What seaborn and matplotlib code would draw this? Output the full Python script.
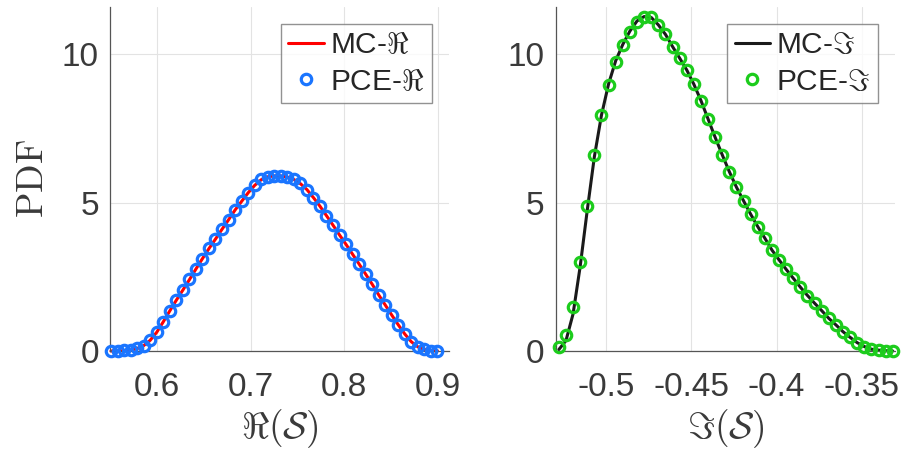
import matplotlib
matplotlib.use("Agg")
import matplotlib.pyplot as plt
import numpy as np
import seaborn as sns

# PDF of real part
re_x = np.linspace(0.551, 0.8995, 51)
re_pce = [0.01, 0.01, 0.02, 0.04, 0.09, 0.18, 0.37, 0.64, 0.99, 1.36, 1.72, 2.05, 2.41,
          2.76, 3.11, 3.46, 3.77, 4.10, 4.41, 4.75, 5.04, 5.33, 5.59, 5.78, 5.87, 5.90,
          5.90, 5.85, 5.79, 5.65, 5.44, 5.16, 4.88, 4.56, 4.24, 3.91, 3.59, 3.27, 2.93,
          2.59, 2.26, 1.89, 1.55, 1.21, 0.88, 0.57, 0.31, 0.15, 0.06, 0.01, 0.01]
re_mc = [0.00, 0.00, 0.01, 0.03, 0.08, 0.18, 0.36, 0.63, 0.98, 1.35, 1.71, 2.05, 2.40,
         2.76, 3.11, 3.45, 3.77, 4.10, 4.42, 4.75, 5.04, 5.33, 5.58, 5.77, 5.87, 5.90,
         5.90, 5.86, 5.78, 5.64, 5.44, 5.17, 4.88, 4.56, 4.24, 3.91, 3.59, 3.26, 2.93,
         2.59, 2.25, 1.89, 1.55, 1.21, 0.88, 0.57, 0.31, 0.14, 0.05, 0.01, 0.00]

# PDF of imaginary part
im_x = np.linspace(-0.5279, -0.3318, 48)
im_pce = [0.15, 0.54, 1.47, 3.01, 4.87, 6.61, 7.96, 8.97, 9.75, 10.31, 10.76, 11.10,
          11.27, 11.25, 10.99, 10.67, 10.26, 9.87, 9.47, 8.99, 8.44, 7.82, 7.20, 6.61,
          6.04, 5.52, 5.06, 4.61, 4.19, 3.80, 3.40, 3.07, 2.75, 2.45, 2.15, 1.87, 1.61,
          1.36, 1.10, 0.88, 0.65, 0.46, 0.28, 0.15, 0.06, 0.03, 0.01, 0.01]
im_mc = [0.05, 0.35, 1.25, 2.85, 4.75, 6.55, 7.95, 9.00, 9.78, 10.33, 10.78, 11.12,
         11.27, 11.24, 10.99, 10.67, 10.26, 9.87, 9.47, 8.99, 8.44, 7.82, 7.20, 6.61,
         6.04, 5.52, 5.06, 4.61, 4.19, 3.80, 3.40, 3.07, 2.75, 2.45, 2.15, 1.87, 1.61,
         1.36, 1.10, 0.88, 0.65, 0.46, 0.28, 0.15, 0.06, 0.03, 0.01, 0.00]

re_ticks = [0.6, 0.7, 0.8, 0.9]
re_ticklabels = ["0.6", "0.7", "0.8", "0.9"]
im_ticks = [-0.5, -0.45, -0.4, -0.35]
im_ticklabels = ["-0.5", "-0.45", "-0.4", "-0.35"]
y_ticks = [0, 5, 10]

sns.set_style("white")
plt.rcParams["font.family"] = ["Liberation Sans", "DejaVu Sans"]
plt.rcParams["mathtext.fontset"] = "cm"
plt.rcParams["axes.unicode_minus"] = False

TXT = "#3a3a3a"

fig = plt.figure(figsize=(9.02, 4.5), dpi=100)
ax1 = fig.add_axes([0.122, 0.22, 0.376, 0.765])
ax2 = fig.add_axes([0.616, 0.22, 0.376, 0.765])


def draw_panel(ax, x, mc, pce, line_color, mark_color, name, ticks, ticklabels, xlim, xlabel):
    sns.lineplot(x=x, y=mc, ax=ax, color=line_color, linewidth=2.2,
                 label="MC-$" + name + "$", clip_on=False, zorder=2)
    sns.lineplot(x=x, y=pce, ax=ax, color=mark_color, linestyle="none", marker="o",
                 markersize=7.5, markerfacecolor="none", markeredgecolor=mark_color,
                 markeredgewidth=2.3, label="PCE-$" + name + "$", clip_on=False, zorder=3)
    ax.set_xlim(*xlim)
    ax.set_ylim(0, 11.6)
    ax.set_xticks(ticks)
    ax.set_xticklabels(ticklabels)
    ax.set_yticks(y_ticks)
    ax.grid(True, color="#e3e3e3", linewidth=0.8)
    ax.set_axisbelow(True)
    for side in ["top", "right"]:
        ax.spines[side].set_visible(False)
    for side in ["left", "bottom"]:
        ax.spines[side].set_color("#555555")
        ax.spines[side].set_linewidth(0.9)
    ax.tick_params(axis="both", direction="in", length=4, width=0.8, color="#555555",
                   labelsize=24, labelcolor=TXT)
    ax.tick_params(axis="x", pad=15)
    ax.tick_params(axis="y", pad=8)
    ax.set_xlabel(xlabel, fontsize=27, color=TXT, labelpad=3)
    leg = ax.legend(loc="upper right", bbox_to_anchor=(0.95, 0.95), fontsize=21.5,
                    handlelength=1.2, handletextpad=0.2, labelspacing=0.28,
                    borderpad=0.25, borderaxespad=0.0, frameon=True, fancybox=False)
    leg.get_frame().set_edgecolor("#777777")
    leg.get_frame().set_linewidth(1.0)
    for t in leg.get_texts():
        t.set_color("#262626")


draw_panel(ax1, re_x, re_mc, re_pce, "#ff0000", "#1a75ff", r"\Re",
           re_ticks, re_ticklabels, (0.55, 0.912), r"$\Re(\mathcal{S})$")
draw_panel(ax2, im_x, im_mc, im_pce, "#1a1a1a", "#1ccc1c", r"\Im",
           im_ticks, im_ticklabels, (-0.5298, -0.3306), r"$\Im(\mathcal{S})$")

ax1.set_ylabel(r"$\mathrm{PDF}$", fontsize=27, color=TXT, labelpad=8)
ax2.set_ylabel("")

fig.savefig("out.png", dpi=100)
